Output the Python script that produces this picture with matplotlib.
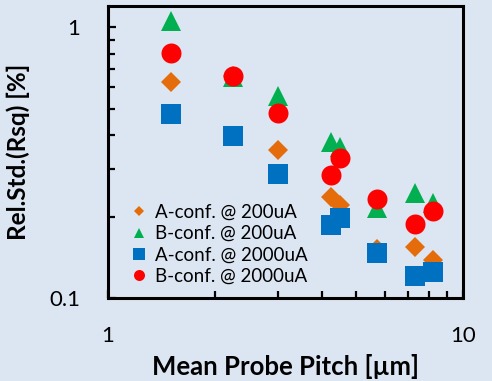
'''
Relative std of Rsq vs mean probe pitch
'''

import numpy             as np
import matplotlib
matplotlib.use( 'Agg' )
import matplotlib.pyplot as plt
from   matplotlib.ticker import LogLocator, NullFormatter, FuncFormatter

plt.rcParams[ 'font.family' ] = [ 'Lato', 'DejaVu Sans' ]

BG = '#DCE6F2'

# Mean probe pitch [um]
pitch = [ 1.5, 2.25, 3.0, 4.24, 4.5, 5.72, 7.3, 8.2 ]

# Rel. std of Rsq [%]
a_200  = [ 0.627, 0.66, 0.351, 0.237, 0.221, 0.152, 0.155, 0.138 ]
b_200  = [ 1.055, 0.656, 0.557, 0.376, 0.360, 0.216, 0.244, 0.224 ]
a_2000 = [ 0.479, 0.398, 0.288, 0.186, 0.198, 0.147, 0.1203, 0.1245 ]
b_2000 = [ 0.806, 0.664, 0.483, 0.286, 0.329, 0.232, 0.188, 0.209 ]

labels = [ 'A-conf. @ 200uA', 'B-conf. @ 200uA', 'A-conf. @ 2000uA', 'B-conf. @ 2000uA' ]

fig = plt.figure( figsize = ( 4.92, 3.81 ), dpi = 100, facecolor = BG )
ax  = fig.add_axes( [ 0.2195, 0.2178, 0.7225, 0.7664 ], facecolor = BG )

# Series, drawn in Excel order so circles sit on top
ax.plot( pitch, a_200,  'D', color = '#E46C0A', markersize = 9.7,  mew = 0, label = labels[ 0 ] )
ax.plot( pitch, b_200,  '^', color = '#00B050', markersize = 14.0, mew = 0, label = labels[ 1 ] )
ax.plot( pitch, a_2000, 's', color = '#0070C0', markersize = 14.4, mew = 0, label = labels[ 2 ] )
ax.plot( pitch, b_2000, 'o', color = '#FF0000', markersize = 14.4, mew = 0, label = labels[ 3 ] )

# Log axes
ax.set_xscale( 'log' )
ax.set_yscale( 'log' )
ax.set_xlim( 1, 10 )
ax.set_ylim( 0.1, 1.2 )

fmt = FuncFormatter( lambda v, p: '%g' % v )
ax.xaxis.set_major_formatter( fmt )
ax.yaxis.set_major_formatter( fmt )
ax.xaxis.set_minor_locator( LogLocator( base = 10, subs = np.arange( 2, 10 ) ) )
ax.yaxis.set_minor_locator( LogLocator( base = 10, subs = np.arange( 2, 10 ) ) )
ax.xaxis.set_minor_formatter( NullFormatter() )
ax.yaxis.set_minor_formatter( NullFormatter() )

ax.tick_params( which = 'both', direction = 'in', width = 1.6, colors = 'black', labelsize = 16 )
ax.tick_params( which = 'major', length = 6 )
ax.tick_params( which = 'minor', length = 5 )
ax.tick_params( axis = 'x', which = 'major', pad = 20 )
ax.tick_params( axis = 'y', which = 'major', pad = 20 )

for s in ax.spines.values():
    s.set_linewidth( 2.2 )
    s.set_color( 'black' )

# Labels
ax.set_xlabel( 'Mean Probe Pitch [µm]', fontsize = 18.5, fontweight = 'bold', labelpad = 6 )
ax.set_ylabel( 'Rel.Std.(Rsq) [%]', fontsize = 17.5, fontweight = 'bold', labelpad = 14 )

ax.legend(
    loc = 'upper left', bbox_to_anchor = ( 0.066, 0.322 ),
    frameon = False, fontsize = 13.5, markerscale = 0.55,
    borderpad = 0, borderaxespad = 0, handlelength = 0.8,
    handletextpad = 0.45, labelspacing = 0.22
)

fig.savefig( 'out.png', dpi = 100, facecolor = BG )
